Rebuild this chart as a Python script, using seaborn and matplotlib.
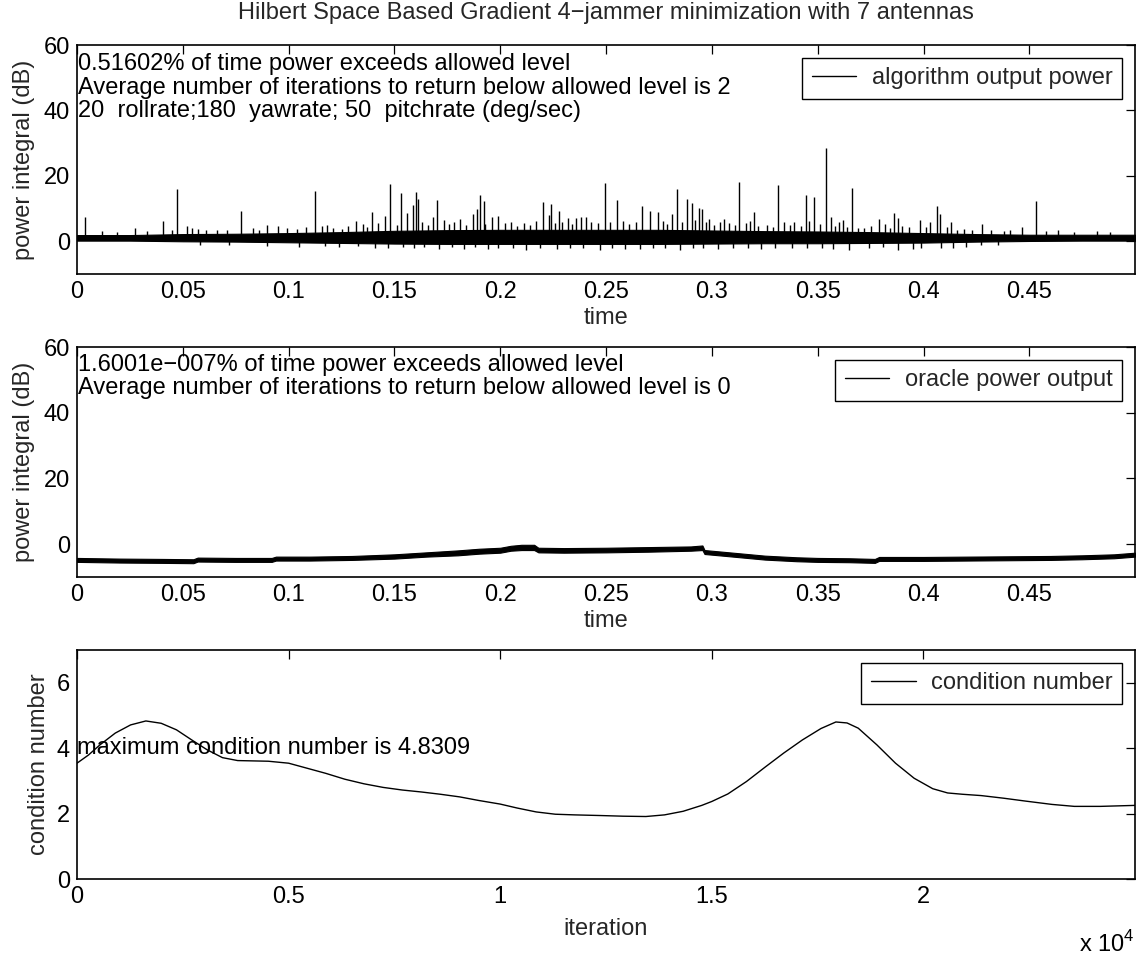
import matplotlib
matplotlib.use("Agg")
import matplotlib.pyplot as plt
import seaborn as sns
import pandas as pd
from matplotlib.lines import Line2D

# ---------------- algorithm output power (dB) ----------------
# envelope of the dense noise band
alg_t = [0.0, 0.025, 0.05, 0.075, 0.1, 0.125, 0.15, 0.175, 0.2, 0.225, 0.25,
         0.275, 0.3, 0.325, 0.35, 0.375, 0.4, 0.425, 0.45, 0.475, 0.4999]
alg_lo = [0.2, 0.2, 0.0, -0.1, -0.3, -0.5, -0.7, -0.8, -0.8, -0.8, -0.8,
          -0.8, -0.7, -0.6, -0.6, -0.5, -0.4, -0.1, 0.1, 0.2, 0.2]
alg_hi = [1.9, 1.9, 2.2, 2.3, 2.5, 2.8, 3.2, 3.4, 3.5, 3.5, 3.5,
          3.5, 3.3, 3.1, 3.0, 2.8, 2.5, 2.2, 2.0, 2.0, 2.0]
# isolated peaks above the band
alg_peak_t = [0.0038, 0.0275, 0.0405, 0.0472, 0.052, 0.0545, 0.0773, 0.090, 0.095,
              0.1124, 0.1156, 0.132, 0.1395, 0.1454, 0.148, 0.153, 0.156, 0.1586,
              0.1603, 0.161, 0.168, 0.170, 0.1734, 0.181, 0.187, 0.189, 0.1906,
              0.1924, 0.196, 0.1987, 0.2204, 0.223, 0.224, 0.2277, 0.232, 0.2358,
              0.238, 0.2407, 0.2497, 0.2553, 0.2671, 0.2706, 0.2745, 0.2812, 0.2835,
              0.2882, 0.2905, 0.2938, 0.2952, 0.2988, 0.3058, 0.313, 0.3199, 0.3313,
              0.334, 0.3445, 0.348, 0.3539, 0.3563, 0.3621, 0.3664, 0.3789, 0.386,
              0.3878, 0.3982, 0.4065, 0.4079, 0.4158, 0.4276, 0.4467, 0.4533,
              0.4634, 0.4819]
alg_peak_v = [7.5, 4.2, 6.2, 16.1, 4.6, 4.2, 9.2, 4.9, 4.7,
              15.3, 4.6, 6.2, 8.8, 7.7, 17.4, 14.9, 8.5, 11.0,
              15.1, 12.8, 7.3, 12.6, 6.5, 6.7, 8.3, 10.0, 14.1,
              12.3, 7.5, 7.7, 11.9, 8.0, 11.4, 9.3, 7.0, 7.0,
              7.3, 7.3, 17.8, 12.7, 10.7, 9.4, 8.9, 8.4, 16.1,
              13.0, 11.7, 10.3, 10.0, 6.9, 6.9, 18.0, 9.1, 17.3,
              5.8, 14.0, 13.5, 28.5, 7.4, 6.4, 16.4, 6.9, 8.6,
              7.2, 6.4, 10.8, 8.4, 3.5, 5.3, 4.3, 12.2,
              3.5, 3.0]
# smaller excursions above the band
alg_grass_t = [0.012, 0.019, 0.033, 0.045, 0.057, 0.061, 0.066, 0.071, 0.083, 0.086,
               0.099, 0.104, 0.108, 0.118, 0.121, 0.125, 0.128, 0.135, 0.137, 0.142,
               0.151, 0.163, 0.166, 0.176, 0.178, 0.184, 0.193, 0.202, 0.205, 0.208,
               0.211, 0.214, 0.217, 0.226, 0.229, 0.234, 0.243, 0.246, 0.252, 0.258,
               0.261, 0.264, 0.277, 0.279, 0.286, 0.292, 0.297, 0.301, 0.304, 0.308,
               0.311, 0.316, 0.318, 0.322, 0.326, 0.329, 0.337, 0.339, 0.342, 0.346,
               0.351, 0.358, 0.360, 0.364, 0.369, 0.372, 0.375, 0.382, 0.384, 0.390,
               0.393, 0.401, 0.403, 0.411, 0.413, 0.419, 0.423, 0.432, 0.438, 0.441,
               0.458, 0.471, 0.488]
alg_grass_v = [3.0, 2.8, 3.2, 3.6, 3.8, 3.5, 3.3, 3.6, 4.0, 3.5,
               4.2, 3.8, 4.5, 5.0, 4.2, 3.9, 4.6, 5.2, 4.4, 5.5,
               5.0, 5.8, 4.9, 5.4, 6.0, 5.1, 5.3, 5.6, 6.0, 4.8,
               5.5, 5.0, 6.2, 5.7, 6.0, 5.2, 6.0, 5.5, 5.8, 6.1,
               5.2, 5.9, 6.3, 5.4, 6.0, 6.5, 5.9, 5.1, 6.0, 5.5,
               4.9, 5.6, 6.3, 4.8, 5.1, 4.5, 5.0, 6.0, 4.6, 6.2,
               5.3, 4.8, 6.0, 4.4, 4.2, 4.0, 4.6, 5.3, 4.1, 4.8,
               4.3, 4.5, 5.8, 4.5, 5.9, 3.9, 3.6, 3.4, 3.0, 3.4,
               3.1, 2.9, 2.8]
# excursions below the band
alg_dip_t = [0.058, 0.072, 0.090, 0.105, 0.117, 0.124, 0.133, 0.141, 0.147, 0.154,
             0.159, 0.164, 0.171, 0.177, 0.183, 0.188, 0.194, 0.199, 0.206, 0.212,
             0.219, 0.227, 0.233, 0.239, 0.247, 0.253, 0.259, 0.266, 0.272, 0.278,
             0.285, 0.291, 0.296, 0.303, 0.310, 0.317, 0.323, 0.330, 0.338, 0.345,
             0.352, 0.357, 0.365, 0.374, 0.381, 0.388, 0.395, 0.399, 0.408, 0.414,
             0.420, 0.427, 0.435]
alg_dip_v = [-1.2, -1.0, -1.3, -1.6, -1.4, -1.8, -1.5, -1.9, -2.0, -1.7,
             -2.2, -1.6, -2.3, -1.8, -2.4, -1.7, -2.5, -1.9, -2.1, -2.6,
             -2.0, -2.4, -1.9, -2.2, -2.6, -2.0, -2.3, -2.5, -2.0, -2.1,
             -2.7, -2.2, -1.9, -2.4, -2.1, -2.0, -2.3, -1.9, -2.2, -2.0,
             -2.1, -2.4, -2.7, -2.0, -1.8, -2.6, -2.5, -2.2, -2.0, -2.1,
             -1.6, -1.2, -1.0]

# ---------------- oracle power output (dB) ----------------
orc_t = [0.0, 0.02, 0.04, 0.055, 0.057, 0.075, 0.092, 0.094, 0.11, 0.13,
         0.15, 0.165, 0.18, 0.19, 0.2, 0.205, 0.21, 0.216, 0.218, 0.23,
         0.25, 0.27, 0.29, 0.2955, 0.2965, 0.305, 0.315, 0.325, 0.34, 0.35,
         0.365, 0.377, 0.379, 0.39, 0.4, 0.42, 0.44, 0.46, 0.475, 0.49, 0.4999]
orc_lo = [-5.4, -5.6, -5.7, -5.8, -5.3, -5.4, -5.4, -5.0, -5.0, -4.8,
          -4.4, -3.8, -3.4, -2.9, -2.6, -2.0, -1.8, -1.8, -2.5, -2.6,
          -2.5, -2.3, -2.0, -1.8, -3.0, -3.5, -4.1, -4.7, -5.2, -5.4,
          -5.5, -5.7, -5.1, -5.1, -5.1, -5.0, -4.9, -4.8, -4.6, -4.3, -3.8]
orc_hi = [-4.2, -4.4, -4.5, -4.6, -4.1, -4.2, -4.2, -3.8, -3.8, -3.6,
          -3.1, -2.5, -1.9, -1.4, -1.1, -0.5, -0.2, -0.2, -1.1, -1.2,
          -1.1, -0.9, -0.7, -0.4, -1.8, -2.3, -2.9, -3.5, -4.0, -4.2,
          -4.3, -4.5, -3.9, -3.9, -3.9, -3.8, -3.7, -3.6, -3.4, -3.1, -2.6]

# ---------------- condition number ----------------
cond_iter = [0, 271, 542, 904, 1266, 1627, 1989, 2350, 2712, 3074, 3436, 3797,
             4159, 4521, 5000, 5425, 5877, 6329, 6781, 7233, 7685, 8137, 8590,
             9042, 9494, 10000, 10398, 10850, 11302, 11754, 12369, 12900, 13442,
             13882, 14322, 14762, 15000, 15379, 15819, 16259, 16699, 17139,
             17579, 17931, 18195, 18460, 18900, 19340, 19780, 20220, 20572,
             20924, 21364, 21893, 22421, 23037, 23565, 24181, 24999]
cond_val = [3.54, 3.79, 4.10, 4.46, 4.71, 4.8309, 4.76, 4.56, 4.25, 3.95, 3.71, 3.62,
            3.61, 3.60, 3.54, 3.39, 3.23, 3.05, 2.91, 2.80, 2.72, 2.66, 2.59,
            2.51, 2.40, 2.29, 2.17, 2.05, 1.98, 1.96, 1.94, 1.92, 1.91,
            1.96, 2.07, 2.25, 2.37, 2.60, 2.98, 3.42, 3.85, 4.25,
            4.60, 4.80, 4.77, 4.61, 4.10, 3.54, 3.08, 2.76, 2.63,
            2.59, 2.55, 2.47, 2.38, 2.28, 2.22, 2.22, 2.25]

time_ticks = [0, 0.05, 0.1, 0.15, 0.2, 0.25, 0.3, 0.35, 0.4, 0.45]
time_labels = ["0", "0.05", "0.1", "0.15", "0.2", "0.25", "0.3", "0.35", "0.4", "0.45"]
iter_ticks = [0, 5000, 10000, 15000, 20000]
iter_labels = ["0", "0.5", "1", "1.5", "2"]

sns.set_theme(style="white")
plt.rcParams["font.family"] = ["Liberation Sans", "DejaVu Sans"]
plt.rcParams["mathtext.fontset"] = "custom"
plt.rcParams["mathtext.rm"] = "Liberation Sans"
FS = 17
INK = "black"

W, H = 1144, 956
fig = plt.figure(figsize=(W / 100, H / 100), dpi=100, facecolor="white")


def px_axes(left, top, right, bottom):
    return fig.add_axes([left / W, 1 - bottom / H, (right - left) / W, (bottom - top) / H])


ax1 = px_axes(77, 45, 1135, 274)
ax2 = px_axes(77, 347, 1135, 577)
ax3 = px_axes(77, 650, 1135, 879)


def style(ax):
    for s in ax.spines.values():
        s.set_color(INK)
        s.set_linewidth(1.2)
    ax.tick_params(direction="in", length=6.5, width=0.9, top=True, right=True,
                   labelsize=FS, colors=INK, pad=5)
    ax.set_facecolor("white")


def add_legend(ax, handles=None, labels=None):
    kw = dict(loc="upper right", fontsize=FS, frameon=True, fancybox=False,
              edgecolor=INK, framealpha=1, borderaxespad=0.55, handlelength=1.9,
              handletextpad=0.65, borderpad=0.4)
    if handles is None:
        leg = ax.legend(**kw)
    else:
        leg = ax.legend(handles, labels, **kw)
    leg.get_frame().set_linewidth(1.0)


# --- top panel
ax1.fill_between(alg_t, alg_lo, alg_hi, color=INK, lw=0.8)
ax1.vlines(alg_grass_t, 1.0, alg_grass_v, color=INK, lw=1.0)
ax1.vlines(alg_dip_t, 1.0, alg_dip_v, color=INK, lw=1.0)
ax1.vlines(alg_peak_t, 1.0, alg_peak_v, color=INK, lw=1.0)
ax1.set_xlim(0, 0.4999)
ax1.set_ylim(-10, 60)
ax1.set_yticks([0, 20, 40, 60])
ax1.set_xticks(time_ticks)
ax1.set_xticklabels(time_labels)
ax1.set_xlabel("time", fontsize=FS, labelpad=3)
ax1.set_ylabel("power integral (dB)", fontsize=FS, labelpad=6)
ax1.set_title("Hilbert Space Based Gradient 4\u2212jammer minimization with 7 antennas",
              fontsize=FS, pad=19)
ax1.text(0.0003, 47, "0.51602% of time power exceeds allowed level\n"
         "Average number of iterations to return below allowed level is 2\n"
         "20  rollrate;180  yawrate; 50  pitchrate (deg/sec)",
         fontsize=FS, ha="left", va="center", linespacing=1.1, color=INK)
style(ax1)
add_legend(ax1, [Line2D([], [], color=INK, lw=1)], ["algorithm output power"])

# --- middle panel
ax2.fill_between(orc_t, orc_lo, orc_hi, color=INK, lw=0.8)
ax2.set_xlim(0, 0.4999)
ax2.set_ylim(-10, 60)
ax2.set_yticks([0, 20, 40, 60])
ax2.set_xticks(time_ticks)
ax2.set_xticklabels(time_labels)
ax2.set_xlabel("time", fontsize=FS, labelpad=3)
ax2.set_ylabel("power integral (dB)", fontsize=FS, labelpad=6)
ax2.text(0.0003, 51, "1.6001e\u2212007% of time power exceeds allowed level\n"
         "Average number of iterations to return below allowed level is 0",
         fontsize=FS, ha="left", va="center", linespacing=1.1, color=INK)
style(ax2)
add_legend(ax2, [Line2D([], [], color=INK, lw=1)], ["oracle power output"])

# --- bottom panel
cond_df = pd.DataFrame({"iteration": cond_iter, "condition number": cond_val})
sns.lineplot(data=cond_df, x="iteration", y="condition number", ax=ax3,
             color=INK, lw=1.0, label="condition number")
ax3.set_xlim(0, 24999)
ax3.set_ylim(0, 7)
ax3.set_yticks([0, 2, 4, 6])
ax3.set_xticks(iter_ticks)
ax3.set_xticklabels(iter_labels)
ax3.set_xlabel("iteration", fontsize=FS, labelpad=7)
ax3.set_ylabel("condition number", fontsize=FS, labelpad=5)
ax3.text(0, 4, "maximum condition number is 4.8309", fontsize=FS,
         ha="left", va="center", color=INK)
ax3.text(1.0, -0.285, r"x 10$^{4}$", transform=ax3.transAxes, fontsize=FS,
         ha="right", va="center", color=INK)
style(ax3)
add_legend(ax3)

fig.savefig("out.png", dpi=100, facecolor="white")
